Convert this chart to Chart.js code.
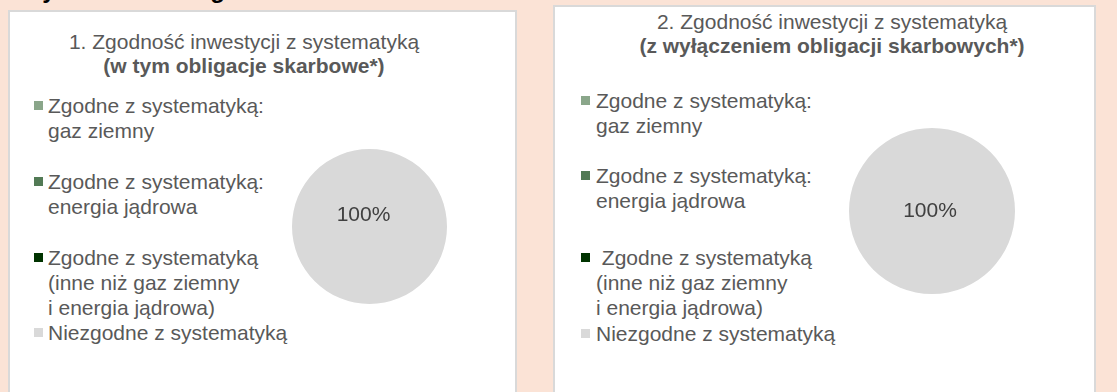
<!DOCTYPE html>
<html lang="pl">
<head>
    <meta charset="UTF-8">
    <title>Zgodność inwestycji z systematyką</title>
    <script src="https://cdn.jsdelivr.net/npm/chart.js@4/dist/chart.umd.min.js"></script>
    <style>
        body {
            margin: 0;
            width: 1117px;
            height: 392px;
            overflow: hidden;
            position: relative;
            background: #fbe3d6;
            font-family: 'Liberation Sans', Arial, sans-serif;
            color: #595959;
        }

        .heading {
            position: absolute;
            left: 20px;
            top: -24px;
            font-size: 24px;
            line-height: 28px;
            font-weight: bold;
            color: #000;
            white-space: nowrap;
        }

        .panel {
            position: absolute;
            background: #fff;
            border: 2px solid #d9d9d9;
            box-sizing: border-box;
        }

        .title {
            position: absolute;
            transform: translateX(-50%);
            text-align: center;
            white-space: nowrap;
            font-size: 21px;
            line-height: 24px;
        }
        .title b { color: #595959; }

        .legend-item {
            position: absolute;
            font-size: 21px;
            line-height: 25px;
            white-space: pre;
        }
        .legend-box {
            position: absolute;
            width: 9px;
            height: 9px;
        }

        canvas { position: absolute; }
    </style>
</head>

<body>
    <div class="heading">Wyniki dla strategii</div>

    <div class="panel" style="left:8px; top:10px; width:509px; height:400px;"></div>
    <div class="panel" style="left:553px; top:5px; width:543px; height:400px;"></div>

    <div class="title" style="left:244px; top:30px;">1. Zgodność inwestycji z systematyką<br><b>(w tym obligacje skarbowe*)</b></div>
    <div class="title" style="left:832px; top:10px;">2. Zgodność inwestycji z systematyką<br><b>(z wyłączeniem obligacji skarbowych*)</b></div>

    <div id="legend1"></div>
    <div id="legend2"></div>

    <canvas id="pie1"></canvas>
    <canvas id="pie2"></canvas>
</body>
</html>

<script>
    // kategorie i udziały (%) – wykres 1 z obligacjami skarbowymi, wykres 2 bez
    var categories = [
        'Zgodne z systematyką:\ngaz ziemny',
        'Zgodne z systematyką:\nenergia jądrowa',
        'Zgodne z systematyką\n(inne niż gaz ziemny\ni energia jądrowa)',
        'Niezgodne z systematyką'
    ];
    var categoriesNoBonds = [
        'Zgodne z systematyką:\ngaz ziemny',
        'Zgodne z systematyką:\nenergia jądrowa',
        ' Zgodne z systematyką\n(inne niż gaz ziemny\ni energia jądrowa)',
        'Niezgodne z systematyką'
    ];
    var valuesWithBonds = [0, 0, 0, 100];
    var valuesNoBonds = [0, 0, 0, 100];
    var sliceColors = ['#8aa68a', '#527a55', '#003300', '#d9d9d9'];

    // etykieta procentowa na wycinku
    var sliceLabelPlugin = {
        id: 'sliceLabel',
        afterDatasetsDraw: function (chart, args, opts) {
            var ctx = chart.ctx;
            var meta = chart.getDatasetMeta(0);
            var data = chart.data.datasets[0].data;
            var total = data.reduce(function (a, b) { return a + b; }, 0);
            ctx.save();
            ctx.font = '21px "Liberation Sans", Arial, sans-serif';
            ctx.fillStyle = '#404040';
            ctx.textAlign = 'center';
            ctx.textBaseline = 'middle';
            meta.data.forEach(function (arc, i) {
                if (!data[i]) return;
                var pct = Math.round(data[i] / total * 100) + '%';
                var pos = data[i] === total ? { x: arc.x, y: arc.y } : arc.tooltipPosition();
                ctx.fillText(pct, pos.x + (opts.dx || 0), pos.y + (opts.dy || 0));
            });
            ctx.restore();
        }
    };

    function createPie(id, values, cx, cy, r, dx, dy) {
        var canvas = document.getElementById(id);
        var size = Math.round(r * 2);
        canvas.width = size;
        canvas.height = size;
        canvas.style.left = (cx - r) + 'px';
        canvas.style.top = (cy - r) + 'px';

        return new Chart(canvas.getContext('2d'), {
            type: 'pie',
            data: {
                labels: categories,
                datasets: [{
                    data: values,
                    backgroundColor: sliceColors,
                    borderWidth: 0
                }]
            },
            options: {
                responsive: false,
                animation: false,
                layout: { padding: 0 },
                plugins: {
                    legend: { display: false },
                    tooltip: { enabled: false },
                    sliceLabel: { dx: dx, dy: dy }
                }
            },
            plugins: [sliceLabelPlugin]
        });
    }

    function buildLegend(holderId, chart, labels, boxX, textX, rowTops) {
        var holder = document.getElementById(holderId);
        var colors = chart.data.datasets[0].backgroundColor;
        labels.forEach(function (text, i) {
            var box = document.createElement('div');
            box.className = 'legend-box';
            box.style.background = colors[i];
            box.style.left = boxX + 'px';
            box.style.top = (rowTops[i] + 8) + 'px';
            holder.append(box);

            var item = document.createElement('div');
            item.className = 'legend-item';
            item.style.left = textX + 'px';
            item.style.top = rowTops[i] + 'px';
            item.textContent = text;
            holder.append(item);
        });
    }

    var pie1 = createPie('pie1', valuesWithBonds, 369.5, 226.5, 77.5, -6, -11);
    var pie2 = createPie('pie2', valuesNoBonds, 932, 211, 83, -2, 0);

    buildLegend('legend1', pie1, categories, 34, 48, [93, 169, 245, 320]);
    buildLegend('legend2', pie2, categoriesNoBonds, 581, 596, [88, 163, 245, 321]);
</script>
